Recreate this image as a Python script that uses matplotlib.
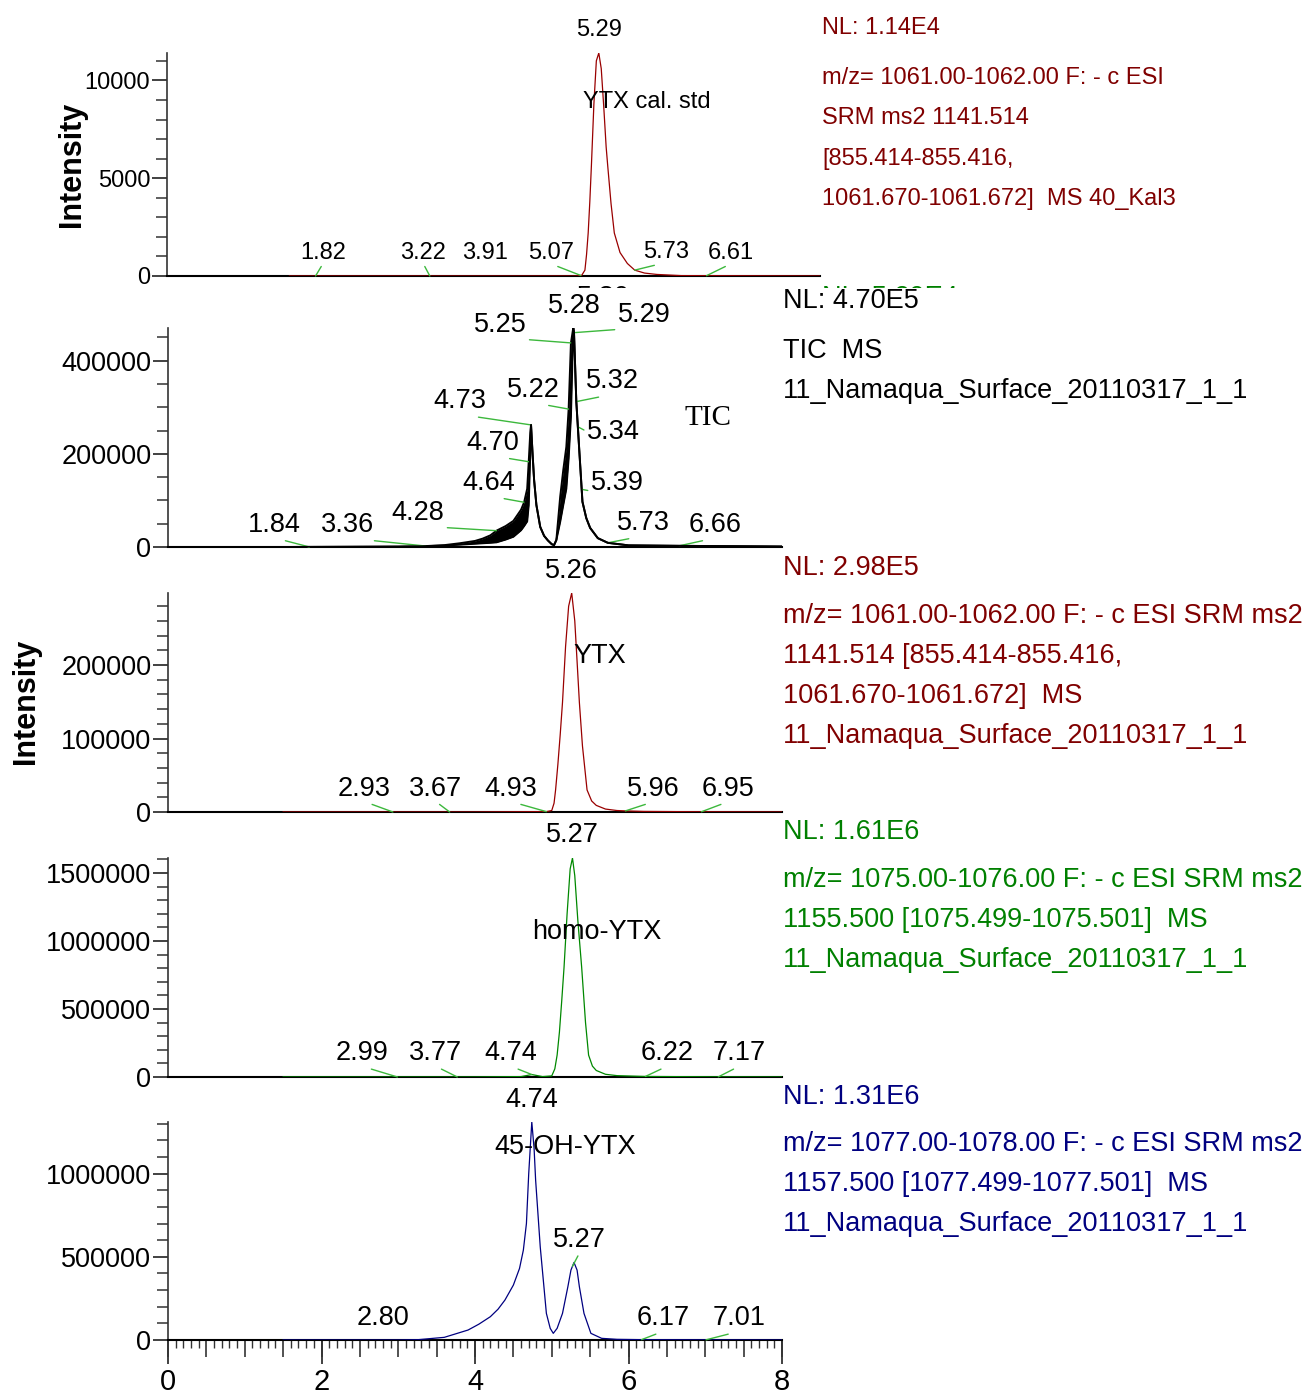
import numpy as np
import matplotlib
matplotlib.use("Agg")
import matplotlib.pyplot as plt
from matplotlib.ticker import FixedLocator, MultipleLocator, NullFormatter
from matplotlib.transforms import Bbox

W, H = 1310, 1399

# --- chromatogram traces (time in min, intensity in counts) ---
cal_t = [1.50, 4.00, 5.00, 5.08, 5.12, 5.14, 5.16, 5.18, 5.20, 5.23, 5.26, 5.29, 5.32,
         5.35, 5.38, 5.40, 5.44, 5.48, 5.55, 5.64, 5.73, 5.85, 6.00, 6.30, 8.00]
cal_i = [0, 0, 0, 30, 300, 1100, 2200, 3800, 5700, 8800, 11000, 11400, 10600,
         8700, 6600, 5600, 3700, 2200, 1200, 640, 300, 150, 80, 20, 0]

tic_t = [1.50, 3.00, 3.30, 3.60, 3.80, 4.00, 4.10, 4.20, 4.28, 4.40, 4.50, 4.60, 4.64,
         4.68, 4.70, 4.72, 4.73, 4.75, 4.77, 4.80, 4.85, 4.90, 4.95, 5.00, 5.03, 5.06,
         5.11, 5.15, 5.19, 5.22, 5.25, 5.28, 5.29, 5.32, 5.36, 5.40, 5.45, 5.50, 5.60,
         5.73, 6.00, 6.66, 8.00]
tic_hi = [0, 800, 1500, 4000, 8000, 13000, 18000, 25000, 35000, 45000, 56000, 80000, 96000,
          125000, 183000, 245000, 262000, 200000, 144000, 90000, 43000, 24000, 14000, 6000, 4000, 15000,
          108000, 165000, 215000, 296000, 438000, 470000, 460000, 312000, 204000, 97000, 62000, 41000, 19000,
          9000, 3500, 2500, 1000]
tic_lo = [0, 800, 1500, 3000, 5000, 7000, 8000, 9000, 10000, 16000, 22000, 36000, 45000,
          55000, 90000, 200000, 262000, 200000, 144000, 90000, 43000, 24000, 14000, 6000, 4000, 15000,
          54000, 90000, 125000, 190000, 280000, 470000, 460000, 312000, 204000, 97000, 62000, 41000, 19000,
          9000, 3500, 2500, 1000]

ytx_t = [1.50, 4.00, 4.93, 5.00, 5.03, 5.05, 5.08, 5.11, 5.14, 5.18, 5.22, 5.26, 5.30,
         5.33, 5.36, 5.40, 5.46, 5.52, 5.58, 5.70, 5.85, 5.96, 6.20, 6.95, 8.00]
ytx_i = [0, 0, 500, 2000, 12000, 30000, 65000, 105000, 149000, 225000, 280000, 298000, 260000,
         205000, 149000, 90000, 30000, 15000, 9000, 4000, 2000, 1500, 800, 300, 0]

homo_t = [1.50, 4.00, 4.60, 4.74, 4.88, 5.00, 5.04, 5.07, 5.10, 5.13, 5.16, 5.20, 5.24,
          5.27, 5.30, 5.34, 5.39, 5.44, 5.48, 5.53, 5.58, 5.70, 5.85, 6.22, 7.17, 8.00]
homo_i = [0, 0, 3000, 18000, 3000, 8000, 60000, 161000, 330000, 560000, 805000, 1200000, 1530000,
          1610000, 1480000, 1150000, 805000, 400000, 161000, 80000, 48000, 20000, 10000, 4000, 1000, 0]

oh_t = [1.50, 3.00, 3.26, 3.60, 3.91, 4.05, 4.20, 4.30, 4.39, 4.50, 4.58, 4.63, 4.67, 4.70,
        4.74, 4.77, 4.79, 4.85, 4.93, 4.98, 5.02, 5.07, 5.14, 5.21, 5.25, 5.29, 5.33, 5.36,
        5.42, 5.51, 5.65, 5.85, 6.17, 7.01, 8.00]
oh_i = [0, 0, 2000, 16000, 60000, 95000, 140000, 185000, 240000, 330000, 430000, 540000, 700000, 1000000,
        1310000, 1150000, 960000, 560000, 160000, 70000, 40000, 70000, 160000, 320000, 420000, 466000, 420000, 320000,
        160000, 40000, 10000, 4000, 2000, 1000, 0]

# normalisation levels (NL) = top of each panel
nl_values = [1.14e4, 4.70e5, 2.98e5, 1.61e6, 1.31e6]

# labelled peaks: (retention time label, text x, text y, leader line?)
cal_labels = [("5.29", 5.29, 12580, False), ("1.82", 1.91, 1190, True), ("3.22", 3.14, 1190, True),
              ("3.91", 3.90, 1190, False), ("5.07", 4.70, 1190, True), ("5.73", 6.11, 1250, True),
              ("6.61", 6.91, 1190, True)]
tic_labels = [("1.84", 1.39, 47300, True), ("3.36", 2.34, 47300, True), ("4.28", 3.26, 73100, True),
              ("4.64", 4.18, 137600, True), ("4.70", 4.23, 223600, True), ("4.73", 3.80, 312500, True),
              ("5.22", 4.76, 337600, True), ("5.25", 4.33, 477400, True), ("5.28", 5.29, 516800, False),
              ("5.29", 6.20, 498900, True), ("5.32", 5.79, 355500, True), ("5.34", 5.80, 245800, True),
              ("5.39", 5.85, 137600, True), ("5.73", 6.19, 51600, True), ("6.66", 7.13, 47300, True)]
ytx_labels = [("5.26", 5.26, 327800, False), ("2.93", 2.56, 31800, True), ("3.67", 3.49, 31800, True),
              ("4.93", 4.47, 31800, True), ("5.96", 6.33, 31800, True), ("6.95", 7.30, 31800, True)]
homo_labels = [("5.27", 5.27, 1780000, False), ("2.99", 2.53, 174000, True), ("3.77", 3.49, 174000, True),
               ("4.74", 4.47, 174000, True), ("6.22", 6.50, 174000, True), ("7.17", 7.44, 174000, True)]
oh_labels = [("4.74", 4.74, 1440000, False), ("5.27", 5.36, 600000, True), ("2.80", 2.80, 130000, False),
             ("6.17", 6.45, 130000, True), ("7.01", 7.44, 130000, True)]

DARKRED = "#800000"
GREEN = "#008000"
NAVY = "#000080"
LEADER = "#3cb83c"
FS = 19.5      # labels in the lower panels
FS_TOP = 17    # labels in the calibration panel

plt.rcParams["font.family"] = ["Liberation Sans", "DejaVu Sans"]

fig = plt.figure(figsize=(W / 100, H / 100), dpi=100)


def box(l, t, r, b):
    return [l / W, 1 - b / H, (r - l) / W, (b - t) / H]


def panel(rect, t, y, color, nl, yticks, yminor, labels, fs=FS, lw=0.9):
    ax = fig.add_axes(box(*rect))
    ax.plot(t, y, color=color, lw=lw, zorder=3)
    ax.set_xlim(0, 8)
    ax.set_ylim(0, nl)
    for s in ("top", "right"):
        ax.spines[s].set_visible(False)
    ax.spines["left"].set_color("#333333")
    ax.spines["left"].set_linewidth(1.2)
    ax.spines["bottom"].set_color("black")
    ax.spines["bottom"].set_linewidth(1.5)
    ax.xaxis.set_visible(False)
    ax.yaxis.set_major_locator(FixedLocator(yticks))
    ax.yaxis.set_minor_locator(MultipleLocator(yminor))
    ax.set_yticklabels([str(v) for v in yticks])
    ax.tick_params(axis="y", which="major", direction="out", length=11, width=1.3,
                   color="#333333", pad=1, labelsize=fs)
    ax.tick_params(axis="y", which="minor", direction="out", length=8, width=1.1, color="#333333")
    for lab, tx, ty, lead in labels:
        if lead:
            rt = float(lab)
            ax.annotate(lab, xy=(rt, np.interp(rt, t, y)), xytext=(tx, ty), ha="center", va="center",
                        fontsize=fs, annotation_clip=False,
                        arrowprops=dict(arrowstyle="-", color=LEADER, lw=1.0,
                                        shrinkA=0, shrinkB=0, relpos=(0.5, 0.0)))
        else:
            ax.text(tx, ty, lab, ha="center", va="center", fontsize=fs, clip_on=False)
    return ax


# YTX calibration standard
ax1 = panel((167, 53, 820, 276), cal_t, cal_i, "#990000", nl_values[0],
            [0, 5000, 10000], 1000, cal_labels, fs=FS_TOP)
ax1.text(5.88, 8900, "YTX cal. std", ha="center", va="center", fontsize=FS_TOP)

# total ion current
ax2 = panel((168, 328, 782, 547), tic_t, tic_hi, "black", nl_values[1],
            [0, 200000, 400000], 50000, tic_labels, lw=1.4)
ax2.plot(tic_t, tic_lo, color="black", lw=1.4, zorder=3)
ax2.fill_between(tic_t, tic_lo, tic_hi, color="black", lw=0, zorder=3)
ax2.text(7.03, 277400, "TIC", ha="center", va="center", fontsize=21,
         family=["Liberation Serif", "DejaVu Serif"])

# YTX
ax3 = panel((168, 593, 782, 812), ytx_t, ytx_i, "#990000", nl_values[2],
            [0, 100000, 200000], 20000, ytx_labels)
ax3.text(5.62, 211800, "YTX", ha="center", va="center", fontsize=FS)

# homo-YTX
ax4 = panel((168, 858, 782, 1077), homo_t, homo_i, "#008800", nl_values[3],
            [0, 500000, 1000000, 1500000], 100000, homo_labels)
ax4.text(5.59, 1068000, "homo-YTX", ha="center", va="center", fontsize=FS)

# 45-OH-YTX
ax5 = panel((168, 1122, 782, 1340), oh_t, oh_i, NAVY, nl_values[4],
            [0, 500000, 1000000], 100000, oh_labels)
ax5.text(5.17, 1160000, "45-OH-YTX", ha="center", va="center", fontsize=FS)

# time axis on the bottom panel only
ax5.xaxis.set_visible(True)
ax5.xaxis.set_major_locator(MultipleLocator(0.5))
ax5.xaxis.set_minor_locator(MultipleLocator(0.1))
ax5.xaxis.set_major_formatter(NullFormatter())
ax5.tick_params(axis="x", which="major", direction="out", length=12, width=1.2, color="#333333")
ax5.tick_params(axis="x", which="minor", direction="out", length=6, width=1.0, color="#333333")
sec = ax5.secondary_xaxis("bottom")
sec.set_xticks([0, 2, 4, 6, 8])
sec.set_xticklabels(["0", "2", "4", "6", "8"])
sec.spines["bottom"].set_visible(False)
sec.tick_params(axis="x", direction="out", length=17, width=1.3, color="#333333",
                labelsize=21, pad=3)

# axis titles
ylab = dict(rotation=90, ha="center", va="center", fontsize=22, fontweight="bold")
fig.text(72 / W, 1 - 164 / H, "Intensity", **ylab)
fig.text(26 / W, 1 - 701 / H, "Intensity", **ylab)


def info(x, ys, lines, color, fs=FS):
    for y, line in zip(ys, lines):
        fig.text(x / W, 1 - y / H, line, color=color, fontsize=fs, ha="left", va="center")


info(822, [28, 78, 118, 159, 199],
     ["NL: 1.14E4", "m/z= 1061.00-1062.00 F: - c ESI", "SRM ms2 1141.514",
      "[855.414-855.416,", "1061.670-1061.672]  MS 40_Kal3"], DARKRED, fs=FS_TOP)
info(783, [301, 351, 391],
     ["NL: 4.70E5", "TIC  MS", "11_Namaqua_Surface_20110317_1_1"], "black")
info(783, [568, 616, 656, 696, 736],
     ["NL: 2.98E5", "m/z= 1061.00-1062.00 F: - c ESI SRM ms2",
      "1141.514 [855.414-855.416,", "1061.670-1061.672]  MS",
      "11_Namaqua_Surface_20110317_1_1"], DARKRED)
info(783, [832, 880, 920, 960],
     ["NL: 1.61E6", "m/z= 1075.00-1076.00 F: - c ESI SRM ms2",
      "1155.500 [1075.499-1075.501]  MS", "11_Namaqua_Surface_20110317_1_1"], GREEN)
info(783, [1097, 1144, 1184, 1224],
     ["NL: 1.31E6", "m/z= 1077.00-1078.00 F: - c ESI SRM ms2",
      "1157.500 [1077.499-1077.501]  MS", "11_Namaqua_Surface_20110317_1_1"], NAVY)

# text of an underlying trace, mostly hidden below the first panel
clip = Bbox.from_extents(0, H - 288, W, H - 277)
for x, s, c, ha in [(603, "5.30", "black", "center"), (822, "NL: 5.29E4", GREEN, "left")]:
    tt = fig.text(x / W, 1 - 298 / H, s, color=c, fontsize=FS, ha=ha, va="center")
    tt.set_clip_on(True)
    tt.set_clip_box(clip)

fig.savefig("out.png", dpi=100)
